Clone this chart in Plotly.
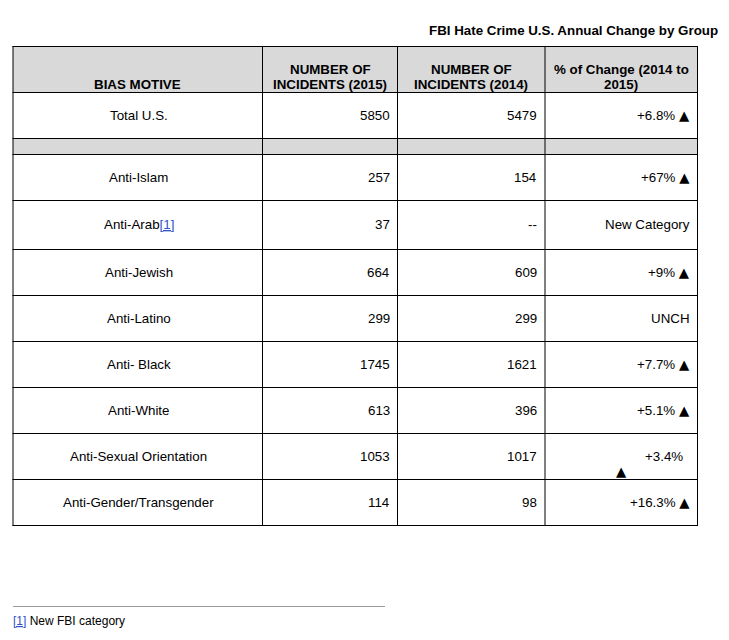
import plotly.graph_objects as go

# ---------------- data ----------------
title = "FBI Hate Crime U.S. Annual Change by Group"
header_lines = [
    ["BIAS MOTIVE"],
    ["NUMBER OF", "INCIDENTS (2015)"],
    ["NUMBER OF", "INCIDENTS (2014)"],
    ["% of Change (2014 to", "2015)"],
]
bias_motive = ["Total U.S.", "", "Anti-Islam", "Anti-Arab", "Anti-Jewish", "Anti-Latino",
               "Anti- Black", "Anti-White", "Anti-Sexual Orientation", "Anti-Gender/Transgender"]
incidents_2015 = ["5850", "", "257", "37", "664", "299", "1745", "613", "1053", "114"]
incidents_2014 = ["5479", "", "154", "--", "609", "299", "1621", "396", "1017", "98"]
pct_change = ["+6.8%", "", "+67%", "New Category", "+9%", "UNCH", "+7.7%", "+5.1%", "+3.4%", "+16.3%"]
increase = [True, False, True, False, True, False, True, True, True, True]
arrow_wrapped = [False, False, False, False, False, False, False, False, True, False]
footnote_ref = [False, False, False, True, False, False, False, False, False, False]
footnote_text = "New FBI category"

# ---------------- layout / style ----------------
W, H = 729, 640
BODY = 8  # default page margin around the plot div
col_edges = [13, 262.5, 397.5, 545, 697.5]
table_top = 46
header_h = 46
row_heights = [46, 16, 46, 49, 46, 46, 46, 46, 46, 46]
grey_rows = [False, True, False, False, False, False, False, False, False, False]
FONT = "Arial, 'Liberation Sans', Helvetica, sans-serif"
FS = 13.33
PAD = 8
ANN_PAD = 2  # plotly annotation inner padding compensation
LINK = "#2f52c9"
HEAD_FILL = "#d9d9d9"
ARROW = "<span style='font-family:DejaVu Sans'>▲</span>"

fig = go.Figure()
fig.add_trace(go.Scatter(x=[BODY, W - BODY], y=[BODY, H - BODY], mode="markers",
                         marker=dict(opacity=0), hoverinfo="skip", showlegend=False))

shapes = []
ann = []

def txt(x, y, s, xanchor="center", size=FS, bold=False, color="black"):
    if xanchor == "right":
        x += ANN_PAD
    elif xanchor == "left":
        x -= ANN_PAD
    ann.append(dict(x=x, y=y, xref="x", yref="y", text=(f"<b>{s}</b>" if bold else s),
                    showarrow=False, xanchor=xanchor, yanchor="middle",
                    font=dict(family=FONT, size=size, color=color)))

# title
txt(718, 30, title, xanchor="right", bold=True)

# row boundaries
row_tops = [table_top + header_h]
for h in row_heights:
    row_tops.append(row_tops[-1] + h)
table_bottom = row_tops[-1]

# header fill
shapes.append(dict(type="rect", xref="x", yref="y", x0=col_edges[0], x1=col_edges[-1],
                   y0=table_top, y1=table_top + header_h, fillcolor=HEAD_FILL, line=dict(width=0), layer="below"))
for i, g in enumerate(grey_rows):
    if g:
        shapes.append(dict(type="rect", xref="x", yref="y", x0=col_edges[0], x1=col_edges[-1],
                           y0=row_tops[i], y1=row_tops[i + 1], fillcolor=HEAD_FILL,
                           line=dict(width=0), layer="below"))

# grid lines
for y in [table_top] + row_tops:
    shapes.append(dict(type="line", xref="x", yref="y", x0=col_edges[0] - 0.5, x1=col_edges[-1] + 0.5,
                       y0=y + 0.5, y1=y + 0.5, line=dict(color="black", width=1)))
for x in col_edges:
    shapes.append(dict(type="line", xref="x", yref="y", x0=x, x1=x,
                       y0=table_top, y1=table_bottom + 1, line=dict(color="black", width=1)))

# header text (bottom aligned)
col_centers = [(col_edges[i] + col_edges[i + 1]) / 2 for i in range(4)]
for c, lines in enumerate(header_lines):
    n = len(lines)
    for k, line in enumerate(lines):
        y = table_top + header_h - 8 - (n - 1 - k) * 15
        txt(col_centers[c], y, line, bold=True)

# body
for i in range(len(bias_motive)):
    yc = (row_tops[i] + row_tops[i + 1]) / 2
    if bias_motive[i]:
        label = bias_motive[i]
        if footnote_ref[i]:
            label += f"<span style='color:{LINK}'><u>[1]</u></span>"
        txt(col_centers[0] + 1, yc, label)
    if incidents_2015[i]:
        txt(col_edges[2] - PAD, yc, incidents_2015[i], xanchor="right")
    if incidents_2014[i]:
        txt(col_edges[3] - PAD, yc, incidents_2014[i], xanchor="right")
    if pct_change[i]:
        if increase[i] and arrow_wrapped[i]:
            txt(col_edges[4] - 15, yc, pct_change[i], xanchor="right")
            txt(col_centers[3], yc + 15, ARROW)
        elif increase[i]:
            txt(col_edges[4] - PAD, yc, pct_change[i] + " " + ARROW, xanchor="right")
        else:
            txt(col_edges[4] - PAD, yc, pct_change[i], xanchor="right")

# footnote
shapes.append(dict(type="line", xref="x", yref="y", x0=13, x1=385, y0=606.5, y1=606.5,
                   line=dict(color="#9a9a9a", width=1)))
txt(13, 621, f"<span style='color:{LINK}'><u>[1]</u></span> {footnote_text}", xanchor="left", size=12)

fig.update_layout(
    width=W - 2 * BODY, height=H - 2 * BODY, margin=dict(l=0, r=0, t=0, b=0),
    paper_bgcolor="white", plot_bgcolor="white",
    xaxis=dict(range=[BODY, W - BODY], visible=False, fixedrange=True),
    yaxis=dict(range=[H - BODY, BODY], visible=False, fixedrange=True),
    shapes=shapes, annotations=ann, showlegend=False,
)
fig.write_html("out.html", config={"displayModeBar": False})
